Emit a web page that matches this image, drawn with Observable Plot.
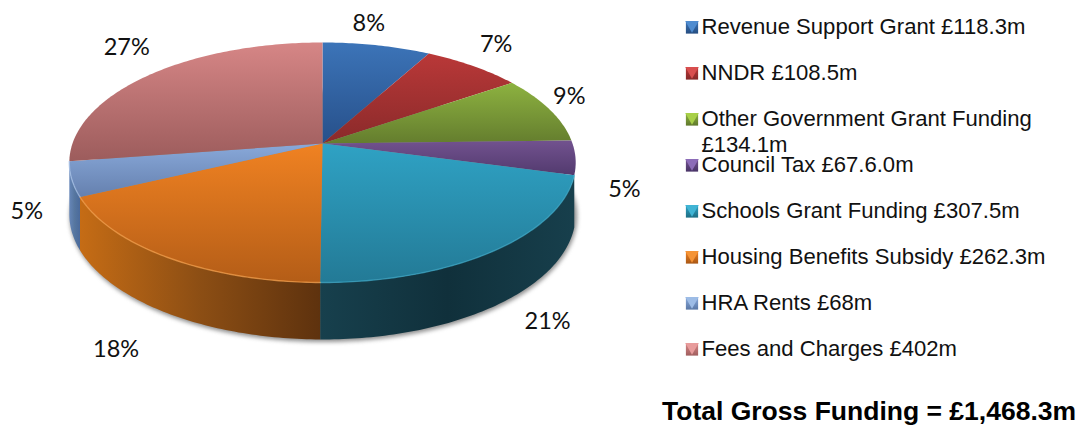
<!DOCTYPE html>
<html><head><meta charset="utf-8">
<script src="https://cdn.jsdelivr.net/npm/d3@7"></script>
<script src="https://cdn.jsdelivr.net/npm/@observablehq/plot@0.6"></script>
<style>html,body{margin:0;padding:0;background:#fff}svg{display:block}</style>
</head><body><div id="chart"></div>
<script>
// ---- data
const categories = ["Revenue Support Grant","NNDR","Other Government Grant Funding","Council Tax","Schools Grant Funding","Housing Benefits Subsidy","HRA Rents","Fees and Charges"];
const amounts = [118.3,108.5,134.1,67.6,307.5,262.3,68,402];
const amountLabels = ["£118.3m","£108.5m","\n£134.1m","£67.6.0m","£307.5m","£262.3m","£68m","£402m"];
const totalLabel = "Total Gross Funding = £1,468.3m";

// ---- styling
const topLight = ["#3c74b8","#b93838","#8db240","#72528f","#2fa2c4","#f08222","#89a9da","#d68686"];
const topDark  = ["#27508a","#8a2a2a","#647d2e","#523a6e","#237a96","#b45d17","#6580ae","#9c5c5c"];
const rim      = [null,null,null,null,"#3aa6c6","#f7a04a","#a4bfe6",null];
const wallLeft = {4:"#17404d",5:"#c56c15",6:"#6686b8"};
const wallMid  = {4:"#10303b",5:"#8c4e14",6:"#56769f"};
const wallRight= {4:"#173f4c",5:"#5e320e",6:"#4a6a9c"};
const swatchLight= ["#4f8cd0","#d84e4e","#a8d048","#8c6cb8","#40b4d4","#f59436","#9dbce6","#e89c9c"];
const swatchDark = ["#254d80","#852828","#5f782c","#483366","#1d6e84","#a85715","#5a78a6","#a05e5e"];
const labelNudge = [[-8,-22],[23,-22],[20,-13],[49,32],[52,71],[-51,92],[-45,32],[-24,-27]];

// ---- perspective of the disc
const k = 0.1583, R = 250;
const surf = {top:{S:117, off:0}, low:{S:122, off:-51}};
const project = (t, r, s=surf.top) => {
  const a = 2*Math.PI*t, u = r*Math.sin(a), v = r*Math.cos(a), d = 1+k*v;
  return {x: R*u/d, y: s.S*v/d + s.off};
};
const total = d3.sum(amounts);
const fracs = amounts.map(v => v/total);
const cum = d3.cumsum(fracs);
const slices = amounts.map((v,i) => ({i, t0: i?cum[i-1]:0, t1: cum[i]}));
const arc = (s, surface=surf.top) => {
  const n = Math.max(4, Math.ceil((s.t1-s.t0)*400));
  return d3.range(n+1).map(j => project(s.t0+(s.t1-s.t0)*j/n, 1, surface));
};
const fullRing = (surface) => d3.range(361).map(j => project(j/360,1,surface));

// ---- gradients
function defs(){
  const g = d3.create("svg:defs");
  const grad = (id, horizontal, stops) => {
    const lg = g.append("linearGradient").attr("id",id).attr("x1",0).attr("y1",0)
      .attr("x2",horizontal?1:0).attr("y2",horizontal?0:1);
    stops.forEach((c,j)=>lg.append("stop").attr("offset",j/(stops.length-1)).attr("stop-color",c));
  };
  slices.forEach(({i})=>{
    grad("top"+i,false,[topLight[i],topDark[i]]);
    grad("sw"+i,false,[topLight[i],swatchDark[i]]);
    if (wallLeft[i]) grad("wall"+i,true,[wallLeft[i],wallMid[i],wallRight[i]]);
  });
  return g.node();
}

// ---- marks
const wallSlices = slices.filter(s=>wallLeft[s.i]);
const marks = [
  defs,
  Plot.line(fullRing(surf.low).map(p=>({x:p.x+1,y:p.y-2})),{x:"x",y:"y",curve:"linear-closed",fill:"#6a6a6a",stroke:"#6a6a6a",strokeWidth:1,opacity:0.75,imageFilter:"blur(2px)"}),
  ...wallSlices.map(s=>{
    const pts = [...arc(s), ...arc(s,surf.low).reverse()];
    return Plot.line(pts,{x:"x",y:"y",curve:"linear-closed",fill:`url(#wall${s.i})`,stroke:"none"});
  }),
  ...slices.map(s=>{
    const pts = [{x:0,y:0}, ...arc(s)];
    return Plot.line(pts,{x:"x",y:"y",curve:"linear-closed",fill:`url(#top${s.i})`,stroke:"none"});
  }),
  ...slices.filter(s=>rim[s.i]).map(s=>Plot.line(arc(s),{x:"x",y:"y",stroke:rim[s.i],strokeWidth:1.4,strokeOpacity:0.7,imageFilter:"blur(0.7px)"})),
  Plot.text(slices.map(s=>{
    const p = project((s.t0+s.t1)/2,1);
    return {x:p.x+labelNudge[s.i][0], y:p.y-labelNudge[s.i][1], label:d3.format(".0%")(fracs[s.i])};
  }),{x:"x",y:"y",text:"label",fontFamily:"Lato",fontSize:23.5,fill:"#111",lineAnchor:"middle"}),
];

// ---- legend, laid out in the same frame
const legendX = 363, legendTop = 116, legendStep = 46;
const rows = categories.map((c,i)=>({x:legendX,y:legendTop-i*legendStep,i,label:`${c} ${amountLabels[i]}`.replace(" \n","\n")}));
marks.push(
  ...rows.map(d=>Plot.dot([d],{x:d=>d.x+6.5,y:"y",symbol:"square",r:6.9,fill:`url(#sw${d.i})`,stroke:"none"})),
  Plot.dot(rows,{x:d=>d.x+6.5,y:d=>d.y+2.6,symbol:"triangle",r:5,rotate:180,fill:d=>swatchLight[d.i],stroke:"none"}),
  Plot.text(rows,{x:d=>d.x+16,y:"y",text:"label",textAnchor:"start",lineAnchor:"top",dy:-12,lineHeight:1.17,fontFamily:"Liberation Sans",fontSize:22.1,fill:"#111"}),
  Plot.text([totalLabel],{x:()=>339.5,y:()=>-268,text:d=>d,textAnchor:"start",lineAnchor:"middle",fontFamily:"Liberation Sans",fontWeight:"bold",fontSize:26.5,fill:"#000"})
);

const chart = Plot.plot({
  width:1085,height:425,margin:0,
  x:{domain:[-322,763],range:[0,1085],axis:null},
  y:{domain:[143,-282],range:[0,425],axis:null},
  style:{background:"#fff",overflow:"visible"},
  marks
});
document.getElementById("chart").append(chart);
</script></body></html>
